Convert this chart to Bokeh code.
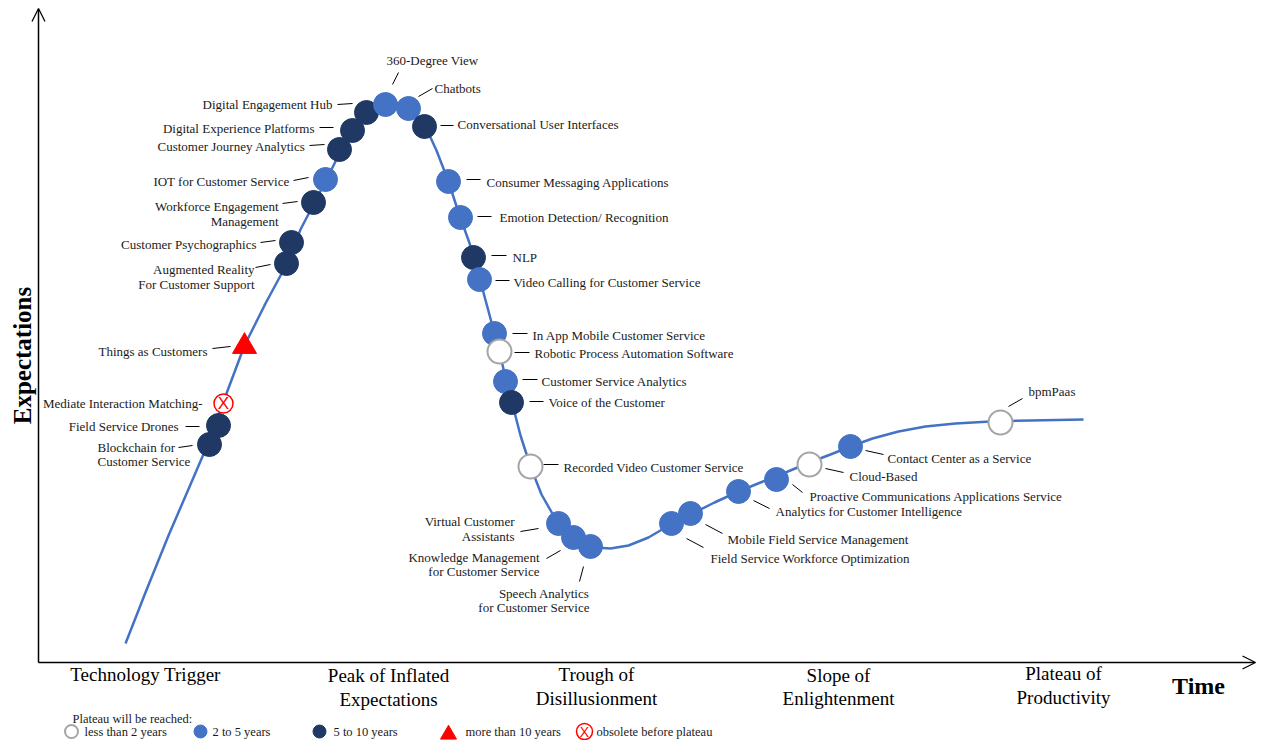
import math
from bokeh.plotting import figure
from bokeh.models import Range1d, ColumnDataSource, Arrow, OpenHead
from bokeh.core.properties import value
from bokeh.embed import file_html
from bokeh.resources import INLINE

# ---------------- DATA ----------------
# hype-cycle curve (time, expectations)
curve_t = [87, 107, 130, 152, 170, 188, 206, 227, 248, 262, 275, 287, 302, 314, 328, 342, 357,
           372, 386, 398, 410, 421, 429, 436, 442, 449, 456, 462, 468, 474, 482, 492, 503, 515,
           528, 542, 557, 572, 590, 610, 632, 652, 676, 700, 722, 747, 771, 792, 812, 834, 860,
           887, 917, 952, 992, 1045]
curve_e = [17, 68, 125, 176, 218, 267, 315, 357, 396, 431, 456, 479, 509, 528, 546, 555, 558,
           552, 536, 510, 479, 445, 423, 403, 379, 353, 327, 304, 279, 256, 225, 194, 166, 145,
           128, 118, 113, 112, 115, 123, 136, 146, 158, 169, 178, 188, 198, 206, 214, 222, 229,
           234, 237, 239, 240, 241]

tech_names = [
    "Blockchain for\nCustomer Service", "Field Service Drones", "Mediate Interaction Matching-",
    "Things as Customers", "Augmented Reality\nFor Customer Support", "Customer Psychographics",
    "Workforce Engagement\nManagement", "IOT for Customer Service", "Customer Journey Analytics",
    "Digital Experience Platforms", "Digital Engagement Hub", "360-Degree View", "Chatbots",
    "Conversational User Interfaces", "Consumer Messaging Applications",
    "Emotion Detection/ Recognition", "NLP", "Video Calling for Customer Service",
    "In App Mobile Customer Service", "Robotic Process Automation Software",
    "Customer Service Analytics", "Voice of the Customer", "Recorded Video Customer Service",
    "Virtual Customer\nAssistants", "Knowledge Management\nfor Customer Service",
    "Speech Analytics\nfor Customer Service", "Field Service Workforce Optimization",
    "Mobile Field Service Management", "Analytics for Customer Intelligence",
    "Proactive Communications Applications Service", "Cloud-Based",
    "Contact Center as a Service", "bpmPaas",
]
tech_t = [171, 180, 185, 206, 248, 253, 275, 287, 301, 314, 328, 347, 370, 386, 410, 422, 435,
          441, 456, 461, 467, 473, 492, 520, 535, 552, 633, 652, 700, 738, 771, 812, 962]
tech_e = [216, 235, 257, 314, 397, 418, 458, 481, 511, 530, 548, 556, 552, 534, 479, 443, 403,
          381, 327, 309, 279, 258, 194, 137, 123, 114, 137, 147, 169, 181, 196, 214, 238]
# plateau: lt2 = less than 2 years, 2to5, 5to10, gt10 = more than 10 years, obs = obsolete
tech_cat = ["5to10", "5to10", "obs", "gt10", "5to10", "5to10", "5to10", "2to5", "5to10",
            "5to10", "5to10", "2to5", "2to5", "5to10", "2to5", "2to5", "5to10", "2to5", "2to5",
            "lt2", "2to5", "5to10", "lt2", "2to5", "2to5", "2to5", "2to5", "2to5", "2to5",
            "2to5", "lt2", "2to5", "lt2"]

phase_names = ["Technology Trigger", "Peak of Inflated\nExpectations", "Trough of\nDisillusionment",
               "Slope of\nEnlightenment", "Plateau of\nProductivity"]
legend_names = ["less than 2 years", "2 to 5 years", "5 to 10 years", "more than 10 years",
                "obsolete before plateau"]
legend_cats = ["lt2", "2to5", "5to10", "gt10", "obs"]

# ---------------- LAYOUT (screen-pixel offsets from each marker) ----------------
lab_dx = [-112, -40, -21, -37, -32, -35, -35, -36, -34, -38, -34, 1, 26, 33, 38, 39, 39, 34, 38,
          35, 36, 37, 33, -44, -34, -1, 39, 37, 37, 33, 40, 37, 28]
lab_dy = [10, 0.5, -0.5, 4.5, 13.5, 1.5, 11.5, 1.5, -3.5, -2.5, -8.5, -44.5, -20.5, -2.5, 0.5,
          -0.5, -0.5, 2.5, 1.5, 1.5, -0.5, -0.5, 0.5, 5.5, 27, 54, 34.5, 25.5, 19.5, 16.5,
          11.5, 11.5, -31.5]
lab_align = ["left", "right", "right", "right", "right", "right", "right", "right", "right",
             "right", "right", "left", "left", "left", "left", "left", "left", "left", "left",
             "left", "left", "left", "left", "right", "right", "right", "left", "left", "left",
             "left", "left", "left", "left"]
# leader lines (x0, y0, x1, y1) offsets; None = no leader
leaders = [(-31, 3, -17, 1), (-33, 1, -19, 1), None, (-32, 2, -14, 0), (-31, 4, -16, 1),
           (-31, 0, -16, -2), (-31, 1, -16, -1), (-32, 1, -17, -2), (-30, -4, -15, -5),
           (-33, -3, -19, -3), (-29, -8, -14, -9), (7, -20, 13, -32), (10, -12, 24, -20),
           (16, -1, 29, -1), (18, -2, 32, -2), (17, -1, 31, -1), (18, -2, 33, -2),
           (16, 1, 30, 1), (18, 0, 33, 0), (15, 1, 30, 1), (17, -2, 32, -2), (18, -1, 32, -1),
           (13, -2, 28, -2), (-38, 8, -20, 5), (-27, 21, -13, 13), (-11, 35, -7, 20),
           (15, 15, 32, 24), (15, 11, 32, 20), (15, 9, 31, 17), (16, 5, 26, 13),
           (16, 4, 34, 8), (15, 4, 33, 8), (8, -16, 22, -24)]

BLUE = "#4472C4"
NAVY = "#203864"
GRAY = "#A5A5A5"
RED = "#FF0000"
styles = {
    "lt2":   dict(marker="circle", fill="white", line=GRAY, size=24, lw=2.0),
    "2to5":  dict(marker="circle", fill=BLUE, line=BLUE, size=24, lw=1.0),
    "5to10": dict(marker="circle", fill=NAVY, line=NAVY, size=24, lw=1.0),
    "gt10":  dict(marker="triangle", fill=RED, line=RED, size=24, lw=1.0),
    "obs":   dict(marker="circle", fill="white", line=RED, size=19, lw=1.5),
}
FONT = value("Liberation Serif")
TXT = "#1a1a1a"

p = figure(width=1264, height=740, x_range=Range1d(-38, 1226), y_range=Range1d(-80, 660),
           output_backend="svg", toolbar_location=None, min_border=0,
           x_axis_location=None, y_axis_location=None)
p.grid.visible = False
p.outline_line_color = None
p.background_fill_color = "white"
p.border_fill_color = "white"

# axes arrows
p.add_layout(Arrow(end=OpenHead(size=13, line_width=1.3, line_color="black"),
                   x_start=0, y_start=-2, x_end=0, y_end=652, line_width=1.5, line_color="black"))
p.add_layout(Arrow(end=OpenHead(size=13, line_width=1.3, line_color="black"),
                   x_start=0, y_start=-2, x_end=1217, y_end=-2, line_width=1.5, line_color="black"))

# curve
p.line(curve_t, curve_e, line_color=BLUE, line_width=2.5, line_join="round")

# leader lines
seg = dict(x0=[], y0=[], x1=[], y1=[])
for t, e, ld in zip(tech_t, tech_e, leaders):
    if ld is None:
        continue
    seg["x0"].append(t + ld[0]); seg["y0"].append(e - ld[1])
    seg["x1"].append(t + ld[2]); seg["y1"].append(e - ld[3])
p.segment("x0", "y0", "x1", "y1", source=ColumnDataSource(seg), line_color="black", line_width=1)

# markers (drawn in time order)
msrc = ColumnDataSource(dict(
    t=tech_t, e=tech_e,
    marker=[styles[c]["marker"] for c in tech_cat],
    fill=[styles[c]["fill"] for c in tech_cat],
    line=[styles[c]["line"] for c in tech_cat],
    size=[styles[c]["size"] for c in tech_cat],
    lw=[styles[c]["lw"] for c in tech_cat],
))
p.scatter("t", "e", source=msrc, marker="marker", size="size", fill_color="fill",
          line_color="line", line_width="lw")
ox = [t for t, c in zip(tech_t, tech_cat) if c == "obs"]
oy = [e for e, c in zip(tech_e, tech_cat) if c == "obs"]
p.text(ox, oy, text=["X"] * len(ox), text_font=value("Liberation Sans"), text_font_size="17px",
       text_color=RED, text_align="center", text_baseline="middle")

# labels
for al in ("left", "right"):
    idx = [i for i, a in enumerate(lab_align) if a == al]
    src = ColumnDataSource(dict(
        x=[tech_t[i] + lab_dx[i] for i in idx],
        y=[tech_e[i] - lab_dy[i] for i in idx],
        txt=[tech_names[i] for i in idx]))
    p.text("x", "y", text="txt", source=src, text_font=FONT, text_font_size="13px",
           text_color=TXT, text_align=al, text_baseline="middle", text_line_height=0.98)

# phase labels
phase_x = [107, 350, 558, 800, 1025]
phase_y = [-13.5, -27, -26, -26.5, -25]
p.text(phase_x, phase_y, text=phase_names, text_font=FONT, text_font_size="19px",
       text_color="black", text_align="center", text_baseline="middle", text_line_height=1.1)

p.text([1160], [-25], text=["Time"], text_font=FONT, text_font_size="24px", text_font_style="bold",
       text_color="black", text_align="center", text_baseline="middle")
p.text([-16], [305], text=["Expectations"], text_font=FONT, text_font_size="25px",
       text_font_style="bold", text_color="black", text_align="center", text_baseline="middle",
       angle=math.pi / 2)

# legend
p.text([34], [-58], text=["Plateau will be reached:"], text_font=FONT, text_font_size="12.5px",
       text_color=TXT, text_align="left", text_baseline="middle")
leg_mx = [33, 162, 281, 410, 546]
leg_my = [-71, -71, -71, -74, -71]
leg_tx = [46, 174, 295, 427, 558]
leg_size = {"lt2": 13, "2to5": 13, "5to10": 13, "gt10": 16, "obs": 16}
lsrc = ColumnDataSource(dict(
    t=leg_mx, e=leg_my,
    marker=[styles[c]["marker"] for c in legend_cats],
    fill=[styles[c]["fill"] for c in legend_cats],
    line=[styles[c]["line"] for c in legend_cats],
    size=[leg_size[c] for c in legend_cats],
    lw=[styles[c]["lw"] for c in legend_cats],
))
p.scatter("t", "e", source=lsrc, marker="marker", size="size", fill_color="fill",
          line_color="line", line_width="lw")
p.text([leg_mx[4]], [leg_my[4]], text=["X"], text_font=value("Liberation Sans"),
       text_font_size="14px", text_color=RED, text_align="center", text_baseline="middle")
p.text(leg_tx, [-71] * 5, text=legend_names, text_font=FONT, text_font_size="12.5px",
       text_color=TXT, text_align="left", text_baseline="middle")

open("out.html", "w").write(file_html(p, INLINE))
